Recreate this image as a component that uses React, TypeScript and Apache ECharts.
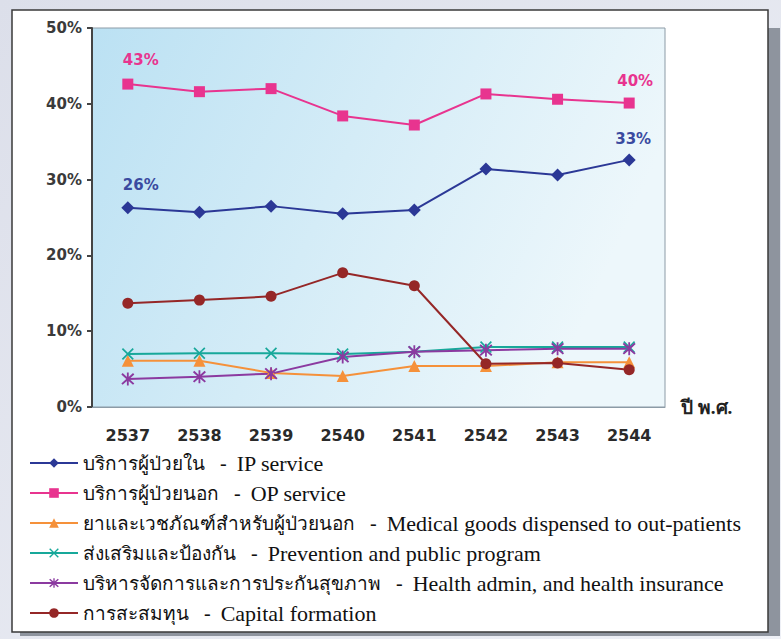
import React, { useEffect, useRef } from "react";
import * as echarts from "echarts";

// Thai health expenditure shares by function, B.E. 2537–2544 (percent)
const years = ["2537", "2538", "2539", "2540", "2541", "2542", "2543", "2544"];
const ipService = [26.3, 25.7, 26.5, 25.5, 26.0, 31.4, 30.6, 32.6];
const opService = [42.6, 41.6, 42.0, 38.4, 37.2, 41.3, 40.6, 40.1];
const medicalGoods = [6.1, 6.1, 4.5, 4.1, 5.4, 5.4, 5.9, 5.9];
const prevention = [7.0, 7.1, 7.1, 7.0, 7.3, 7.9, 7.9, 7.9];
const healthAdmin = [3.7, 4.0, 4.4, 6.6, 7.3, 7.5, 7.7, 7.7];
const capitalFormation = [13.7, 14.1, 14.6, 17.7, 16.0, 5.7, 5.8, 4.9];
const yTicks = [0, 10, 20, 30, 40, 50];

const seriesNames = [
  "บริการผู้ป่วยใน - IP service",
  "บริการผู้ป่วยนอก - OP service",
  "ยาและเวชภัณฑ์สำหรับผู้ป่วยนอก - Medical goods dispensed to out-patients",
  "ส่งเสริมและป้องกัน - Prevention and public program",
  "บริหารจัดการและการประกันสุขภาพ - Health admin, and health insurance",
  "การสะสมทุน - Capital formation",
];

const CROSS = "path://M0,1 L1,0 L5,4 L9,0 L10,1 L6,5 L10,9 L9,10 L5,6 L1,10 L0,9 L4,5 Z";
const STAR =
  "path://M0,1.5 L1,0.5 L5,4 L9,0.5 L10,1.5 L6.2,5 L10,8.5 L9,9.5 L5,6 L1,9.5 L0,8.5 L3.8,5 Z M4.3,0 L5.7,0 L5.7,10 L4.3,10 Z";

const labelFont = "'DejaVu Sans', Verdana, sans-serif";
const legendFont = "'Liberation Serif', 'Times New Roman', serif";

function withEndLabels(values: number[], color: string, first: number[], last: number[]) {
  return values.map((v, i) => {
    if (i === 0 || i === values.length - 1) {
      const off = i === 0 ? first : last;
      return {
        value: v,
        label: {
          show: true,
          position: "top",
          offset: off,
          color,
          fontFamily: labelFont,
          fontWeight: "bold",
          fontSize: 15,
          formatter: (p: any) => Math.round(p.value) + "%",
        },
      };
    }
    return v;
  });
}

export default function App() {
  const ref = useRef<HTMLDivElement>(null);

  useEffect(() => {
    document.body.style.margin = "0";
    const chart = echarts.init(ref.current!, null, { renderer: "svg" });

    const mk = (name: string, data: any[], color: string, symbol: string, size: number) => ({
      name,
      type: "line",
      data,
      symbol,
      symbolSize: size,
      lineStyle: { color, width: 2 },
      itemStyle: { color },
      z: 3,
    });

    chart.setOption({
      animation: false,
      backgroundColor: "transparent",
      graphic: [
        {
          type: "rect",
          z: -10,
          silent: true,
          shape: { x: 0, y: 0, width: 781, height: 639 },
          style: {
            fill: new echarts.graphic.LinearGradient(0, 0, 1, 1, [
              { offset: 0, color: "#dcdfea" },
              { offset: 1, color: "#eef0f6" },
            ]),
          },
        },
        {
          type: "rect",
          z: -9,
          silent: true,
          shape: { x: 20, y: 28, width: 760, height: 608 },
          style: { fill: "#8e949e" },
        },
        {
          type: "rect",
          z: -8,
          silent: true,
          shape: { x: 12, y: 10, width: 756, height: 622 },
          style: { fill: "#ffffff", stroke: "#3a3a3a", lineWidth: 1.5 },
        },
      ],
      grid: {
        left: 92,
        right: 116,
        top: 28,
        bottom: 232,
        show: true,
        borderColor: "#8c9ba6",
        borderWidth: 1,
        backgroundColor: new echarts.graphic.LinearGradient(0, 0, 1, 0.3, [
          { offset: 0, color: "#bbe1f3" },
          { offset: 1, color: "#edf7fb" },
        ]),
      },
      xAxis: {
        type: "category",
        data: years,
        boundaryGap: true,
        name: "ปี พ.ศ.",
        nameLocation: "end",
        nameGap: 16,
        nameTextStyle: {
          fontFamily: legendFont,
          fontSize: 19,
          fontWeight: "bold",
          color: "#222",
          verticalAlign: "middle",
          padding: [4, 0, 0, 0],
        },
        axisLine: { show: true, lineStyle: { color: "#8c9ba6", width: 1 } },
        axisTick: { show: false },
        axisLabel: {
          margin: 20,
          fontFamily: labelFont,
          fontWeight: "bold",
          fontSize: 16,
          color: "#2a2a2a",
        },
      },
      yAxis: {
        type: "value",
        min: 0,
        max: 50,
        interval: 10,
        axisLine: { show: true, lineStyle: { color: "#444", width: 2 } },
        axisTick: { show: true, length: 5, lineStyle: { color: "#444", width: 2 } },
        splitLine: { show: false },
        axisLabel: {
          margin: 10,
          fontFamily: labelFont,
          fontWeight: "bold",
          fontSize: 15,
          color: "#3a3a3a",
          formatter: (v: number) => (yTicks.includes(v) ? v + "%" : ""),
        },
      },
      legend: {
        orient: "vertical",
        left: 24,
        top: 447,
        itemWidth: 48,
        itemHeight: 12,
        itemGap: 8,
        data: seriesNames,
        formatter: (name: string) => {
          const [th, en] = name.split(" - ");
          return `{th|${th}}{dash|-}{en|${en}}`;
        },
        textStyle: {
          fontFamily: legendFont,
          color: "#111",
          rich: {
            th: { fontFamily: legendFont, fontSize: 19, color: "#111", lineHeight: 22 },
            dash: {
              fontFamily: legendFont,
              fontSize: 20,
              color: "#111",
              padding: [0, 10, 0, 15],
              lineHeight: 22,
            },
            en: { fontFamily: legendFont, fontSize: 22, color: "#111", lineHeight: 22 },
          },
        },
      },
      series: [
        mk(seriesNames[0], withEndLabels(ipService, "#3a4aa0", [13, -4], [4, -2]), "#2b3896", "diamond", 13),
        mk(seriesNames[1], withEndLabels(opService, "#e8348f", [13, -6], [6, -4]), "#e8348f", "rect", 11),
        mk(seriesNames[2], medicalGoods, "#f5913a", "triangle", 12),
        mk(seriesNames[3], prevention, "#17a89a", CROSS, 12),
        mk(seriesNames[4], healthAdmin, "#8b3aa0", STAR, 13),
        mk(seriesNames[5], capitalFormation, "#952727", "circle", 11),
      ],
    });

    return () => chart.dispose();
  }, []);

  return (
    <div
      ref={ref}
      style={{ position: "absolute", left: 0, top: 0, width: 781, height: 639 }}
    />
  );
}
